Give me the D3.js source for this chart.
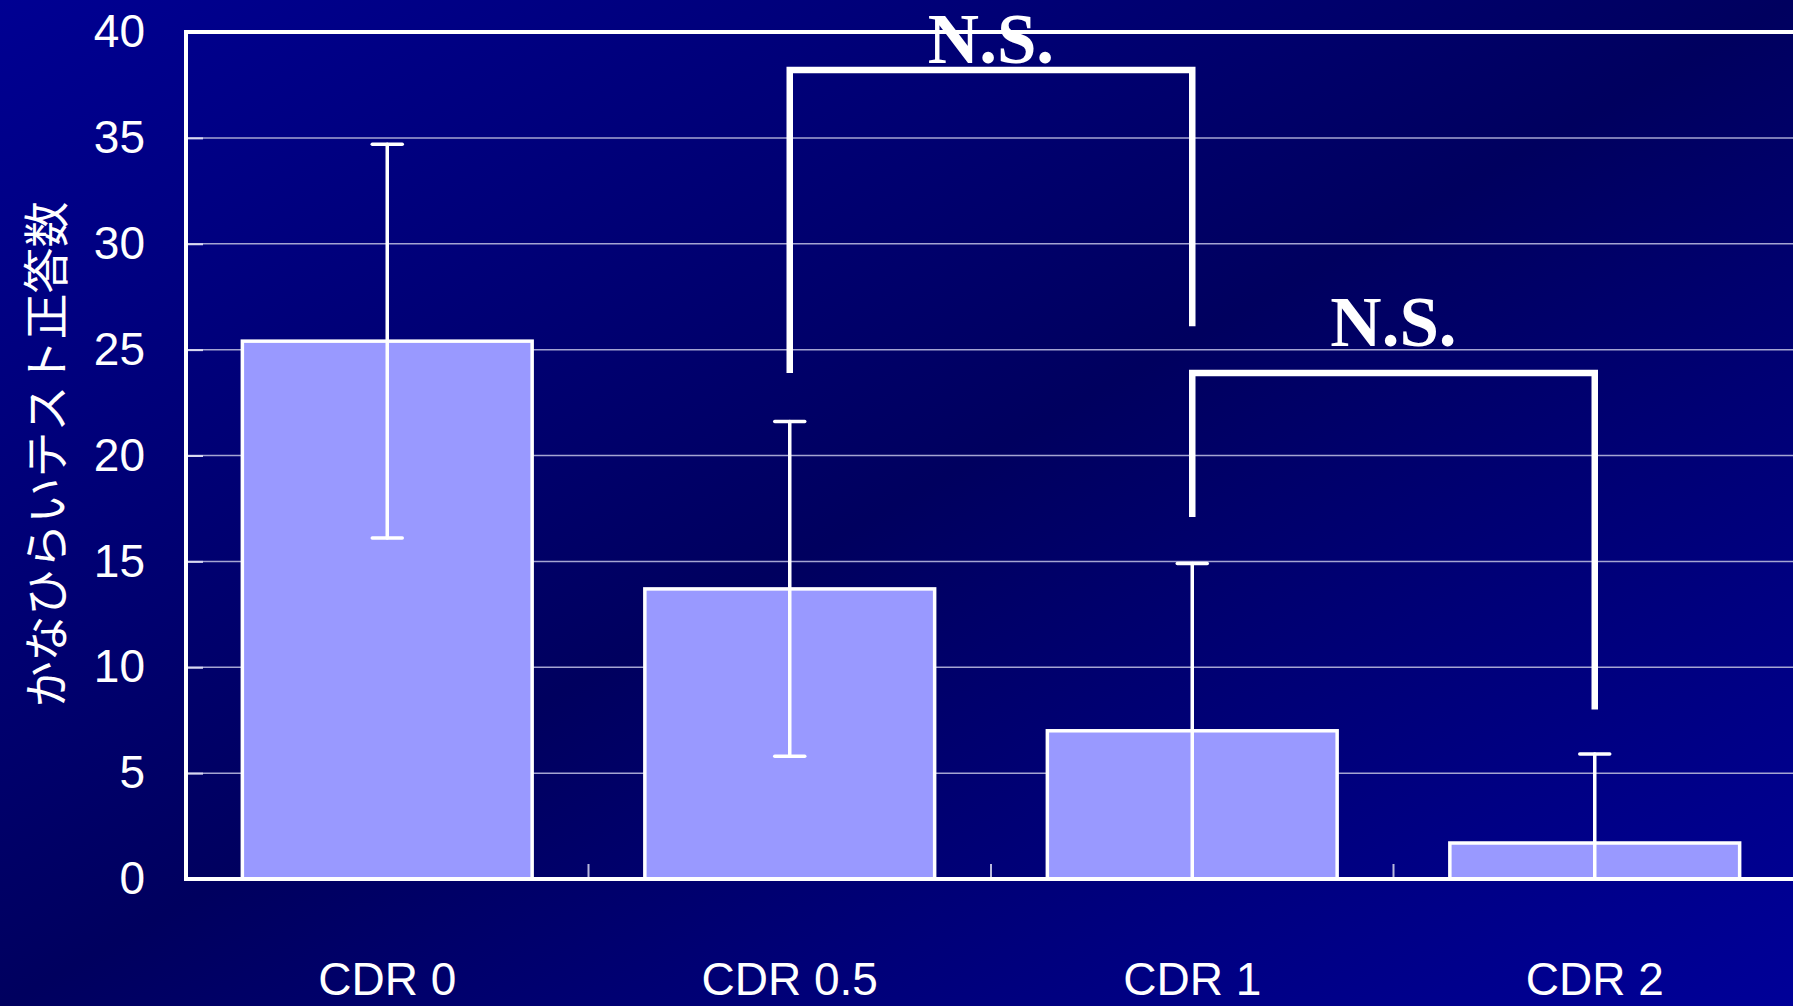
<!DOCTYPE html>
<html>
<head>
<meta charset="utf-8">
<script src="https://cdn.jsdelivr.net/npm/d3@7"></script>
<style>
  html, body { margin: 0; padding: 0; background: #000062; }
  svg { display: block; }
</style>
</head>
<body>
<svg id="chart" width="1793" height="1006"></svg>
<script>
// Group labels, mean scores and standard deviations
const categories = ["CDR 0", "CDR 0.5", "CDR 1", "CDR 2"];
const means = [25.4, 13.7, 7.0, 1.7];
const sds = [9.3, 7.9, 7.9, 4.2];
const yTicks = [0, 5, 10, 15, 20, 25, 30, 35, 40];
const yTitle = "かなひらいテスト正答数";

// Pairwise comparisons (bracket heights in score units)
const comparisons = [
  { from: "CDR 0.5", to: "CDR 1", top: 38.2, leftEnd: 23.9, rightEnd: 26.1, label: "N.S.", labelAt: 38.52 },
  { from: "CDR 1", to: "CDR 2", top: 23.9, leftEnd: 17.1, rightEnd: 8.0, label: "N.S.", labelAt: 25.15 }
];

const W = 1793, H = 1006;
const margin = { left: 186, top: 32, right: -3, bottom: 127 };
const svg = d3.select("#chart");

// Diagonal background: bright blue corners, dark navy across the middle
const defs = svg.append("defs");
const grad = defs.append("linearGradient")
  .attr("id", "bg").attr("x1", 0).attr("y1", 0).attr("x2", 1).attr("y2", 1);
grad.append("stop").attr("offset", "0%").attr("stop-color", "#000092");
grad.append("stop").attr("offset", "50%").attr("stop-color", "#00005f");
grad.append("stop").attr("offset", "100%").attr("stop-color", "#000098");
svg.append("rect").attr("width", W).attr("height", H).attr("fill", "url(#bg)");

const x = d3.scaleBand()
  .domain(categories)
  .range([margin.left, W - margin.right])
  .paddingInner(0.28)
  .paddingOuter(0.14);

const y = d3.scaleLinear()
  .domain([0, 40])
  .range([H - margin.bottom, margin.top]);

const center = c => x(c) + x.bandwidth() / 2;
const data = categories.map((c, i) => ({ c, m: means[i], sd: sds[i] }));

// Horizontal gridlines
svg.append("g")
  .selectAll("line")
  .data(yTicks.filter(v => v > 0 && v < 40))
  .join("line")
  .attr("x1", margin.left).attr("x2", W)
  .attr("y1", d => y(d)).attr("y2", d => y(d))
  .attr("stroke", "#a4a4d2").attr("stroke-width", 1.5);

// Y axis: short inward ticks and numeric labels
const yAxis = svg.append("g")
  .attr("transform", `translate(${margin.left},0)`)
  .call(d3.axisLeft(y).tickValues(yTicks).tickSize(-17).tickPadding(41));
yAxis.select(".domain").remove();
yAxis.selectAll(".tick line").attr("stroke", "#d8d8f0").attr("stroke-width", 2);
yAxis.selectAll(".tick text")
  .attr("fill", "#ffffff")
  .attr("font-family", "'Liberation Sans', Arial, sans-serif")
  .attr("font-size", 46);

// X axis category labels with small upward ticks between groups
const step = x.step();
const boundaries = d3.range(1, categories.length).map(i => margin.left + step * i);
svg.append("g")
  .selectAll("line")
  .data(boundaries)
  .join("line")
  .attr("x1", d => d).attr("x2", d => d)
  .attr("y1", y(0)).attr("y2", y(0) - 15)
  .attr("stroke", "#b8b8dc").attr("stroke-width", 2);

svg.append("g")
  .selectAll("text")
  .data(categories)
  .join("text")
  .attr("x", d => center(d))
  .attr("y", 995)
  .attr("text-anchor", "middle")
  .attr("fill", "#ffffff")
  .attr("font-family", "'Liberation Sans', Arial, sans-serif")
  .attr("font-size", 46)
  .text(d => d);

// Bars
svg.append("g")
  .selectAll("rect")
  .data(data)
  .join("rect")
  .attr("x", d => x(d.c))
  .attr("width", x.bandwidth())
  .attr("y", d => y(d.m))
  .attr("height", d => y(0) - y(d.m))
  .attr("fill", "#9999ff")
  .attr("stroke", "#ffffff")
  .attr("stroke-width", 3.5);

// Error bars (mean ± SD, clipped at zero)
const capW = 30;
const eb = svg.append("g").attr("stroke", "#ffffff").attr("stroke-width", 3.5).attr("stroke-linecap", "round");
data.forEach(d => {
  const cx = center(d.c);
  const hi = d.m + d.sd;
  const lo = Math.max(0, d.m - d.sd);
  eb.append("line").attr("x1", cx).attr("x2", cx).attr("y1", y(hi)).attr("y2", y(lo));
  eb.append("line").attr("x1", cx - capW / 2).attr("x2", cx + capW / 2).attr("y1", y(hi)).attr("y2", y(hi));
  if (d.m - d.sd > 0) {
    eb.append("line").attr("x1", cx - capW / 2).attr("x2", cx + capW / 2).attr("y1", y(lo)).attr("y2", y(lo));
  }
});

// Plot frame: left, top and baseline
const frame = svg.append("g").attr("stroke", "#ffffff").attr("stroke-width", 4).attr("fill", "none");
frame.append("line").attr("x1", margin.left).attr("x2", margin.left).attr("y1", y(40) - 2).attr("y2", y(0) + 2);
frame.append("line").attr("x1", margin.left).attr("x2", W).attr("y1", y(40)).attr("y2", y(40));
frame.append("line").attr("x1", margin.left).attr("x2", W).attr("y1", y(0)).attr("y2", y(0));

// Significance brackets
const br = svg.append("g");
comparisons.forEach(cmp => {
  const x1 = center(cmp.from), x2 = center(cmp.to);
  br.append("path")
    .attr("d", `M${x1},${y(cmp.leftEnd)}V${y(cmp.top)}H${x2}V${y(cmp.rightEnd)}`)
    .attr("fill", "none")
    .attr("stroke", "#ffffff")
    .attr("stroke-width", 6.5)
    .attr("stroke-linejoin", "miter");
  br.append("text")
    .attr("x", (x1 + x2) / 2)
    .attr("y", y(cmp.labelAt))
    .attr("text-anchor", "middle")
    .attr("fill", "#ffffff")
    .attr("font-family", "'Liberation Serif', 'Times New Roman', serif")
    .attr("font-weight", "bold")
    .attr("font-size", 71)
    .text(cmp.label);
});

// Y axis title
svg.append("text")
  .attr("transform", `translate(43,${(y(0) + y(40)) / 2 - 1}) rotate(-90)`)
  .attr("text-anchor", "middle")
  .attr("dominant-baseline", "central")
  .attr("fill", "#ffffff")
  .attr("font-family", "'Noto Sans CJK JP', sans-serif")
  .attr("font-size", 46)
  .text(yTitle);
</script>
</body>
</html>
